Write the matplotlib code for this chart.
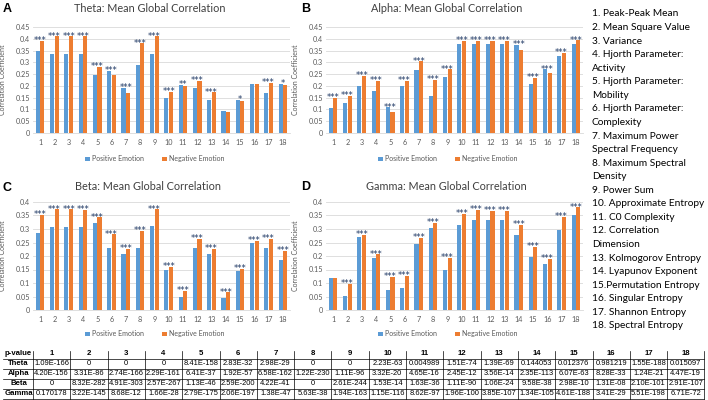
import numpy as np
import matplotlib
matplotlib.use("Agg")
from matplotlib import pyplot as plt

# === data ===
items = list(range(1, 19))
features = ["Peak-Peak Mean", "Mean Square Value", "Variance",
            "Hjorth Parameter:\nActivity", "Hjorth Parameter:\nMobility",
            "Hjorth Parameter:\nComplexity", "Maximum Power\nSpectral Frequency",
            "Maximum Spectral\nDensity", "Power Sum", "Approximate Entropy",
            "C0 Complexity", "Correlation\nDimension", "Kolmogorov Entropy",
            "Lyapunov Exponent", "Permutation Entropy", "Singular Entropy",
            "Shannon Entropy", "Spectral Entropy"]

theta_pos = [0.35, 0.335, 0.335, 0.335, 0.245, 0.265, 0.19, 0.29, 0.335, 0.15, 0.205, 0.19, 0.142, 0.094, 0.14, 0.206, 0.168, 0.21]
theta_neg = [0.39, 0.41, 0.41, 0.41, 0.28, 0.245, 0.17, 0.38, 0.41, 0.175, 0.2, 0.22, 0.172, 0.09, 0.137, 0.206, 0.213, 0.205]
alpha_pos = [0.105, 0.126, 0.2, 0.178, 0.109, 0.2, 0.266, 0.156, 0.239, 0.379, 0.379, 0.379, 0.379, 0.375, 0.21, 0.27, 0.326, 0.379]
alpha_neg = [0.148, 0.159, 0.244, 0.222, 0.09, 0.222, 0.304, 0.227, 0.27, 0.39, 0.392, 0.39, 0.39, 0.351, 0.235, 0.256, 0.341, 0.393]
beta_pos = [0.284, 0.309, 0.307, 0.309, 0.322, 0.231, 0.206, 0.23, 0.311, 0.15, 0.048, 0.231, 0.206, 0.045, 0.145, 0.248, 0.23, 0.184]
beta_neg = [0.351, 0.373, 0.373, 0.37, 0.343, 0.28, 0.227, 0.293, 0.373, 0.16, 0.07, 0.262, 0.227, 0.065, 0.153, 0.255, 0.263, 0.218]
gamma_pos = [0.119, 0.052, 0.27, 0.193, 0.075, 0.08, 0.245, 0.304, 0.148, 0.316, 0.334, 0.334, 0.334, 0.278, 0.196, 0.17, 0.298, 0.352]
gamma_neg = [0.119, 0.098, 0.278, 0.206, 0.123, 0.125, 0.266, 0.324, 0.193, 0.355, 0.371, 0.366, 0.366, 0.316, 0.235, 0.188, 0.344, 0.38]

p_theta = ["1.09E-166", "0", "0", "0", "8.41E-158", "2.83E-32", "2.98E-29", "0", "0",
           "2.23E-63", "0.004989", "1.51E-74", "1.39E-69", "0.144053", "0.012376", "0.981219", "1.55E-188", "0.015097"]
p_alpha = ["4.20E-156", "3.31E-86", "2.74E-166", "2.29E-161", "6.41E-37", "1.92E-57", "6.58E-162", "1.22E-230", "1.11E-96",
           "3.32E-20", "4.65E-16", "2.45E-12", "3.56E-14", "2.35E-113", "6.07E-63", "8.28E-33", "1.24E-21", "4.47E-19"]
p_beta = ["0", "8.32E-282", "4.91E-303", "2.57E-267", "1.13E-46", "2.59E-200", "4.22E-41", "0", "2.61E-244",
          "1.53E-14", "1.63E-36", "1.11E-90", "1.06E-24", "9.58E-38", "2.98E-10", "1.31E-08", "2.10E-101", "2.91E-107"]
p_gamma = ["0.170178", "3.22E-145", "8.68E-12", "1.66E-28", "2.79E-175", "2.06E-197", "1.38E-47", "5.63E-38", "1.94E-163",
           "1.15E-116", "8.62E-97", "1.96E-100", "3.85E-107", "1.34E-105", "4.61E-188", "3.41E-29", "5.51E-198", "6.71E-72"]

# === style ===
BLUE = "#5B9BD5"
ORANGE = "#ED7D31"
STAR = "#1F3864"
GRID = "#D9D9D9"
GREY = "#595959"
SANS = ["Lato", "DejaVu Sans"]
W, H = 708, 400

plt.rcParams["font.family"] = SANS
fig = plt.figure(figsize=(W / 100, H / 100), dpi=100)


def px_axes(left, top, width, height):
    return fig.add_axes([left / W, 1 - (top + height) / H, width / W, height / H])


def stars(p):
    p = float(p)
    if p < 0.001:
        return "***"
    if p < 0.01:
        return "**"
    if p < 0.05:
        return "*"
    return ""


def ylab(v, _):
    v = round(v, 2)
    return "0" if v == 0 else ("%.2f" % v).rstrip("0")


def panel(ax, pos, neg, pv, ymax, legend_y):
    x = np.array(items)
    ax.bar(x - 0.16, pos, 0.29, color=BLUE, label="Positive Emotion", zorder=2)
    ax.bar(x + 0.16, neg, 0.29, color=ORANGE, label="Negative Emotion", zorder=2)
    for xi, a, b, p in zip(x, pos, neg, pv):
        s = stars(p)
        if s:
            ax.annotate(s, (xi, max(a, b)), xytext=(0, -1.6), textcoords="offset points",
                        ha="center", va="baseline", fontsize=6, color=STAR,
                        family="DejaVu Sans")
    ax.set_xlim(0.5, 18.5)
    ax.set_ylim(0, ymax)
    ax.set_xticks(x)
    ax.set_yticks(np.arange(0, ymax + 1e-9, 0.05))
    ax.yaxis.set_major_formatter(ylab)
    ax.grid(axis="y", color=GRID, lw=0.6, zorder=0)
    for s in ["top", "right", "left"]:
        ax.spines[s].set_visible(False)
    ax.spines["bottom"].set_color(GRID)
    ax.spines["bottom"].set_linewidth(0.6)
    ax.tick_params(axis="both", length=0, labelsize=5.2, labelcolor=GREY)
    ax.tick_params(axis="y", pad=2.2)
    ax.tick_params(axis="x", pad=4)
    ax.set_ylabel("Correlation Coefficient", fontsize=5, color=GREY)
    ax.yaxis.set_label_coords(-0.105, 0.5)
    ax.legend(loc="center", bbox_to_anchor=(0.475, legend_y), ncol=2, frameon=False,
              fontsize=5, handlelength=0.6, handleheight=0.6, handletextpad=0.4,
              columnspacing=2.6, labelcolor=GREY)


axA = px_axes(33, 27, 257, 106)
axB = px_axes(326, 27, 257, 106)
axC = px_axes(33, 202, 257, 108)
axD = px_axes(326, 202, 257, 108)
panel(axA, theta_pos, theta_neg, p_theta, 0.45, -0.245)
panel(axB, alpha_pos, alpha_neg, p_alpha, 0.45, -0.245)
panel(axC, beta_pos, beta_neg, p_beta, 0.4, -0.22)
panel(axD, gamma_pos, gamma_neg, p_gamma, 0.4, -0.22)

# titles and panel letters
for (tx, ty, t) in [(150, 8, "Theta: Mean Global Correlation"), (447, 8, "Alpha: Mean Global Correlation"),
                    (148, 187, "Beta: Mean Global Correlation"), (446, 187, "Gamma: Mean Global Correlation")]:
    fig.text(tx / W, 1 - ty / H, t, ha="center", va="center", fontsize=7.8, color="#404040")
for (lx, ly, l) in [(7, 8.5, "A"), (306, 8.5, "B"), (7, 188, "C"), (306, 187, "D")]:
    fig.text(lx / W, 1 - ly / H, l, ha="center", va="center", fontsize=9,
             fontweight="bold", family="Liberation Sans")

# overlay in pixel coordinates for feature list and table
ov = fig.add_axes([0, 0, 1, 1])
ov.set_xlim(0, W)
ov.set_ylim(H, 0)
ov.axis("off")

line = 0
for i, name in enumerate(features, start=1):
    sep = "." if i == 15 else ". "
    for part in (str(i) + sep + name).split("\n"):
        ov.text(592, 14 + line * 13.56, part, ha="left", va="center", fontsize=7.3, color="black")
        line += 1

# p-value table
TF = ["Liberation Sans Narrow", "Liberation Sans", "DejaVu Sans"]
row_top = 348.5
row_h = 10
lab_w = 33
col_w = 37.3
rows = [("Theta", p_theta), ("Alpha", p_alpha), ("Beta", p_beta), ("Gamma", p_gamma)]

yc = row_top + row_h / 2
ov.text(lab_w / 2 + 2, yc, "p-value", ha="center", va="center", fontsize=5.6, family=TF, fontweight="bold")
for k, it in enumerate(items):
    ov.text(lab_w + (k + 0.5) * col_w, yc, str(it), ha="center", va="center", fontsize=5.6, family=TF, fontweight="bold")
for r, (name, vals) in enumerate(rows, start=1):
    yc = row_top + (r + 0.5) * row_h
    ov.text(lab_w / 2 + 2, yc, name, ha="center", va="center", fontsize=5.6, family=TF, fontweight="bold")
    for k, v in enumerate(vals):
        ov.text(lab_w + (k + 0.5) * col_w, yc, v, ha="center", va="center", fontsize=5.4, family=TF)

bottom = row_top + 5 * row_h
for r in range(1, 6):
    ov.plot([3, lab_w + 18 * col_w], [min(row_top + r * row_h, H - 0.6)] * 2, color="black", lw=0.5)
for k in range(19):
    xk = lab_w + k * col_w
    ov.plot([xk, xk], [row_top + 2, min(bottom, H - 0.6)], color="black", lw=0.5)

fig.savefig("out.png", dpi=100)
